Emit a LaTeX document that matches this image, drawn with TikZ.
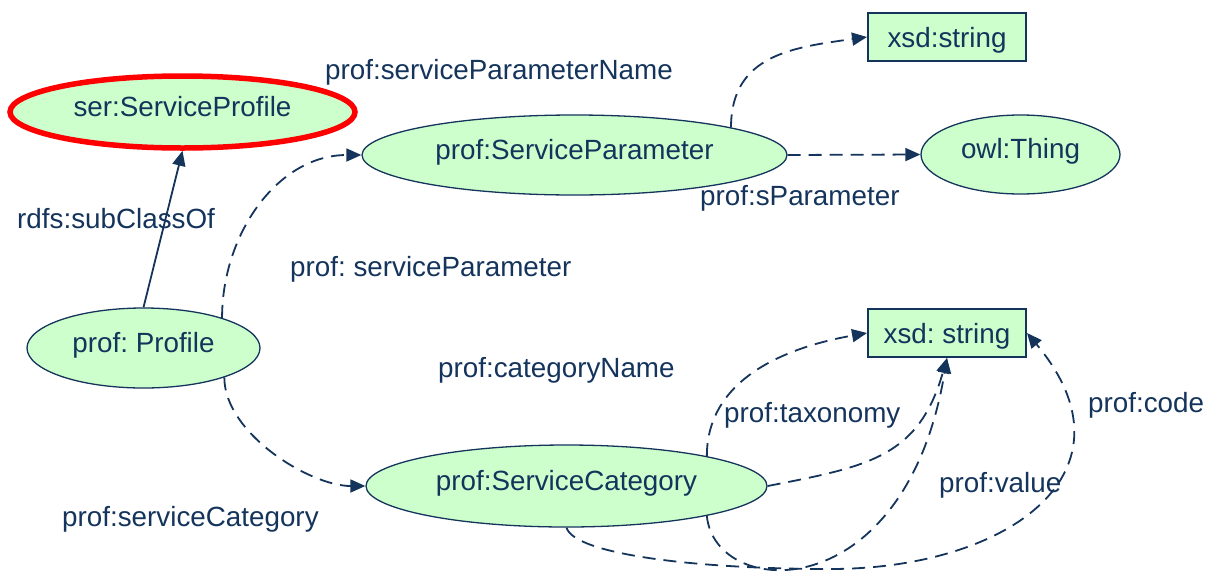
\documentclass[tikz,border=0pt]{standalone}
\usepackage{fontspec}
\setmainfont{Liberation Sans}
\usetikzlibrary{arrows.meta,shapes.geometric}
\definecolor{navy}{HTML}{14345C}
\definecolor{mint}{HTML}{CCFFCC}
\definecolor{ringred}{HTML}{FF0000}
\frenchspacing
\begin{document}
\begin{tikzpicture}[x=1pt,y=-1pt,
  txt/.style={font=\fontsize{27.8}{33}\selectfont\frenchspacing, text=navy},
  lbl/.style={txt, inner sep=0pt, anchor=base west},
  cls/.style={txt, ellipse, draw=navy, fill=mint, line width=1.3pt, inner sep=0pt,
              text height=20pt, text depth=12pt},
  lit/.style={txt, rectangle, draw=navy, fill=mint, line width=2pt, inner sep=0pt,
              text height=20pt, text depth=0pt},
  link/.style={draw=navy, line width=1.8pt, -{Triangle[length=15pt,width=13pt]}},
  optional/.style={link, dash pattern=on 13pt off 8pt}]
\useasboundingbox (0,0) rectangle (1209,571);

% classes and literals
\node[cls, draw=ringred, line width=5.5pt, minimum width=345pt, minimum height=72pt] (ser) at (182.5,112) {ser:ServiceProfile};
\node[cls, minimum width=425pt, minimum height=80pt] (par) at (574.5,155) {prof:ServiceParameter};
\node[cls, minimum width=199pt, minimum height=79pt] (thing) at (1020.5,154.5) {owl:Thing};
\node[lit, minimum width=158pt, minimum height=48pt] (strA) at (947,37) {xsd:string};
\node[cls, minimum width=233pt, minimum height=80pt] (prof) at (143.5,348) {prof: Profile};
\node[cls, minimum width=401pt, minimum height=82pt] (cat) at (566.5,486) {prof:ServiceCategory};
\node[lit, minimum width=158pt, minimum height=48pt] (strB) at (947,333) {xsd: string};
\coordinate (codelow) at (830,569);

% property labels
\node[lbl] (lName) at (325,79) {prof:serviceParameterName};
\node[lbl] (lSpar) at (700,205) {prof:sParameter};
\node[lbl] (lSub) at (17,228) {rdfs:subClassOf};
\node[lbl] (lSvcPar) at (290,276) {prof: serviceParameter};
\node[lbl] (lCatName) at (438,377) {prof:categoryName};
\node[lbl] (lSvcCat) at (62,526) {prof:serviceCategory};
\node[lbl] (lTax) at (724,422) {prof:taxonomy};
\node[lbl] (lVal) at (939,492) {prof:value};
\node[lbl] (lCode) at (1088,412) {prof:code};

% subclass relation
\draw[link] (prof.north) -- (ser.south);

% properties
\draw[optional] (prof.21) to[out=90,in=180] (par.west);
\draw[optional] (prof.-20) to[out=-90,in=180,looseness=0.8] (cat.west);
\draw[optional] (par.10.5) to[out=90,in=188,looseness=1.15] (strA.west);
\draw[optional] (par.east) -- (thing.west);
\draw[optional] (cat.12) to[out=90,in=190] (strB.west);
\draw[optional] (cat.east) to[out=11,in=254,looseness=1.2] (strB.south);
\draw[optional] (cat.-12) .. controls (715,600) and (905,610) .. (strB.south);
\draw[optional] (cat.south) .. controls (575,555) and (700,569) .. (codelow)
  to[out=0,in=-50,looseness=1.5] (strB.east);
\end{tikzpicture}
\end{document}
